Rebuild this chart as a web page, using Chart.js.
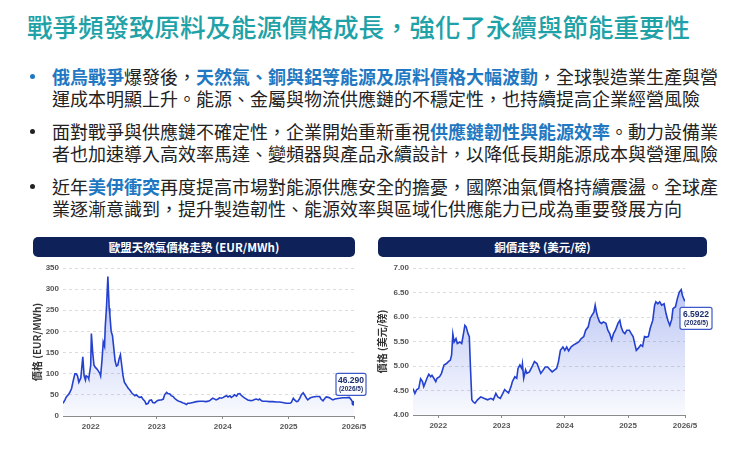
<!DOCTYPE html>
<html>
<head>
<meta charset="utf-8">
<script src="https://cdn.jsdelivr.net/npm/chart.js@4.4.1/dist/chart.umd.min.js"></script>
<style>
    body {
        margin: 0;
        width: 750px;
        height: 450px;
        background: #fff;
        position: relative;
        overflow: hidden;
        font-family: "Noto Sans CJK TC", "Noto Sans", sans-serif;
    }
    h1 {
        position: absolute;
        left: 27px;
        top: 9px;
        margin: 0;
        font-size: 25.5px;
        line-height: 34px;
        font-weight: 500;
        color: #1fa2a7;
        white-space: nowrap;
    }
    .bullet {
        position: absolute;
        left: 52px;
        font-size: 18px;
        line-height: 22px;
        color: #222;
        white-space: nowrap;
    }
    .bullet::before {
        content: "";
        position: absolute;
        left: -22px;
        top: 9px;
        width: 5px;
        height: 5px;
        border-radius: 50%;
        background: #222;
    }
    .bullet.first::before { background: #1f78c1; }
    .hl { color: #1f78c1; font-weight: 700; }
    .bar {
        position: absolute;
        top: 237px;
        height: 20px;
        line-height: 20px;
        background: #0e2259;
        border-radius: 5px;
        color: #fff;
        font-size: 11.5px;
        font-weight: 700;
        text-align: center;
    }
    canvas { position: absolute; }
</style>
</head>
<body>
<h1>戰爭頻發致原料及能源價格成長，強化了永續與節能重要性</h1>

<div class="bullet first" style="top:65px"><span class="hl">俄烏戰爭</span>爆發後，<span class="hl">天然氣、銅與鋁等能源及原料價格大幅波動</span>，全球製造業生產與營<br>運成本明顯上升。能源、金屬與物流供應鏈的不穩定性，也持續提高企業經營風險</div>
<div class="bullet" style="top:120px">面對戰爭與供應鏈不確定性，企業開始重新重視<span class="hl">供應鏈韌性與能源效率</span>。動力設備業<br>者也加速導入高效率馬達、變頻器與產品永續設計，以降低長期能源成本與營運風險</div>
<div class="bullet" style="top:175px">近年<span class="hl">美伊衝突</span>再度提高市場對能源供應安全的擔憂，國際油氣價格持續震盪。全球產<br>業逐漸意識到，提升製造韌性、能源效率與區域化供應能力已成為重要發展方向</div>

<div class="bar" style="left:33px;width:322px">歐盟天然氣價格走勢 (EUR/MWh)</div>
<div class="bar" style="left:378px;width:329px">銅價走勢 (美元/磅)</div>

<canvas id="gas" width="355" height="182" style="left:22px;top:258px"></canvas>
<canvas id="copper" width="350" height="182" style="left:372px;top:258px"></canvas>

<script>
// x positions are decimal years
const X_TICKS = [2022, 2023, 2024, 2025];
const X_TICK_LABELS = ["2022", "2023", "2024", "2025", "2026/5"];

const GAS_T = [
    2021.58, 2021.61, 2021.63, 2021.66, 2021.68, 2021.71, 2021.73, 2021.76, 2021.78, 2021.80,
    2021.82, 2021.85, 2021.88, 2021.90, 2021.92, 2021.93, 2021.96, 2021.97, 2022.00, 2022.01,
    2022.03, 2022.05, 2022.07, 2022.09, 2022.11, 2022.14, 2022.15, 2022.17, 2022.19, 2022.21,
    2022.22, 2022.24, 2022.26, 2022.28, 2022.29, 2022.31, 2022.33, 2022.35, 2022.37, 2022.39,
    2022.41, 2022.43, 2022.45, 2022.47, 2022.49, 2022.51, 2022.53, 2022.55, 2022.57, 2022.59,
    2022.62, 2022.64, 2022.67, 2022.69, 2022.72, 2022.74, 2022.77, 2022.79, 2022.82, 2022.84,
    2022.87, 2022.89, 2022.92, 2022.94, 2022.97, 2023.00, 2023.02, 2023.05, 2023.07, 2023.10,
    2023.12, 2023.15, 2023.17, 2023.20, 2023.22, 2023.25, 2023.27, 2023.30, 2023.32, 2023.35,
    2023.37, 2023.40, 2023.42, 2023.45, 2023.47, 2023.50, 2023.55, 2023.60, 2023.65, 2023.70,
    2023.75, 2023.80, 2023.83, 2023.85, 2023.88, 2023.90, 2023.93, 2023.95, 2023.98, 2024.01,
    2024.03, 2024.06, 2024.08, 2024.11, 2024.13, 2024.16, 2024.18, 2024.21, 2024.23, 2024.26,
    2024.28, 2024.31, 2024.33, 2024.36, 2024.38, 2024.41, 2024.43, 2024.46, 2024.48, 2024.51,
    2024.54, 2024.56, 2024.59, 2024.61, 2024.66, 2024.71, 2024.76, 2024.81, 2024.86, 2024.91,
    2024.96, 2025.02, 2025.04, 2025.07, 2025.09, 2025.12, 2025.14, 2025.17, 2025.19, 2025.22,
    2025.24, 2025.27, 2025.29, 2025.32, 2025.34, 2025.37, 2025.42, 2025.47, 2025.49, 2025.52,
    2025.55, 2025.57, 2025.60, 2025.62, 2025.65, 2025.67, 2025.70, 2025.72, 2025.77, 2025.82,
    2025.87, 2025.92, 2025.95, 2025.97, 2025.99
];
const GAS_V = [
    30, 38, 45, 50, 55, 65, 80, 100, 100, 95,
    80, 90, 140, 95, 85, 95, 92, 88, 120, 195,
    150, 120, 115, 112, 108, 100, 95, 130, 175, 165,
    210, 260, 330, 255, 240, 200, 190, 160, 130, 118,
    120, 135, 145, 120, 95, 80, 75, 70, 65, 62,
    55, 52, 48, 50, 46, 44, 45, 40, 35, 28,
    30, 37, 38, 32, 31, 35, 37, 38, 38, 40,
    50, 56, 53, 52, 48, 46, 42, 38, 36, 34,
    33, 31, 30, 27, 30, 30, 32, 34, 35, 35,
    34, 36, 40, 42, 40, 38, 40, 43, 42, 44,
    46, 48, 45, 48, 44, 47, 50, 47, 52, 53,
    49, 45, 43, 40, 38, 37, 36, 37, 39, 40,
    38, 40, 36, 35, 35, 34, 34, 33, 33, 32,
    30, 30, 32, 42, 38, 34, 35, 42, 50, 55,
    50, 42, 38, 42, 44, 45, 46, 46, 40, 36,
    42, 45, 44, 43, 40, 38, 40, 41, 42, 43,
    43, 44, 38, 32, 30
];
const GAS_LAST_VALUE = "46.290";
const GAS_LAST_DATE = "(2026/5)";

const CU_T = [
    2021.60, 2021.63, 2021.66, 2021.69, 2021.72, 2021.75, 2021.77, 2021.80, 2021.83, 2021.85,
    2021.88, 2021.90, 2021.93, 2021.96, 2021.98, 2022.02, 2022.05, 2022.09, 2022.13, 2022.16,
    2022.19, 2022.21, 2022.23, 2022.25, 2022.28, 2022.30, 2022.34, 2022.37, 2022.39, 2022.42,
    2022.44, 2022.47, 2022.49, 2022.51, 2022.53, 2022.55, 2022.58, 2022.62, 2022.67, 2022.72,
    2022.78, 2022.83, 2022.87, 2022.91, 2022.94, 2022.98, 2023.02, 2023.05, 2023.08, 2023.11,
    2023.15, 2023.17, 2023.21, 2023.24, 2023.26, 2023.29, 2023.32, 2023.33, 2023.35, 2023.38,
    2023.40, 2023.44, 2023.48, 2023.52, 2023.56, 2023.59, 2023.62, 2023.65, 2023.69, 2023.73,
    2023.77, 2023.80, 2023.84, 2023.87, 2023.90, 2023.93, 2023.97, 2024.00, 2024.03, 2024.06,
    2024.10, 2024.14, 2024.18, 2024.22, 2024.26, 2024.30, 2024.33, 2024.37, 2024.40, 2024.43,
    2024.46, 2024.48, 2024.50, 2024.52, 2024.55, 2024.58, 2024.61, 2024.65, 2024.68, 2024.71,
    2024.74, 2024.77, 2024.80, 2024.84, 2024.87, 2024.89, 2024.92, 2024.95, 2024.98, 2025.02,
    2025.05, 2025.08, 2025.11, 2025.13, 2025.16, 2025.20, 2025.23, 2025.26, 2025.29, 2025.32,
    2025.35, 2025.39, 2025.42, 2025.44, 2025.47, 2025.50, 2025.53, 2025.57, 2025.60, 2025.63,
    2025.66, 2025.69, 2025.71, 2025.75, 2025.78, 2025.81, 2025.84, 2025.86, 2025.89, 2025.90
];
const CU_V = [
    4.54, 4.44, 4.52, 4.54, 4.74, 4.68, 4.58, 4.68, 4.78, 4.83,
    4.78, 4.81, 4.75, 4.68, 4.75, 4.78, 4.85, 5.02, 5.05, 5.09,
    5.12, 5.22, 5.65, 5.49, 5.56, 5.46, 5.49, 5.46, 5.60, 5.83,
    5.80, 5.66, 5.60, 4.92, 4.31, 4.27, 4.24, 4.31, 4.37, 4.34,
    4.31, 4.34, 4.31, 4.44, 4.37, 4.34, 4.44, 4.52, 4.48, 4.45,
    4.58, 4.68, 4.78, 4.75, 4.95, 5.02, 4.95, 5.04, 4.75, 4.92,
    4.85, 4.88, 4.98, 5.09, 5.05, 4.95, 4.85, 4.90, 4.98, 4.98,
    4.92, 4.88, 4.92, 4.95, 5.09, 5.32, 5.39, 5.32, 5.39, 5.31,
    5.39, 5.43, 5.46, 5.49, 5.56, 5.60, 5.73, 5.80, 5.97, 6.04,
    6.10, 6.24, 6.10, 6.00, 5.90, 5.87, 5.90, 5.87, 5.73, 5.66,
    5.53, 5.66, 5.73, 5.87, 5.93, 5.80, 5.70, 5.66, 5.73, 5.73,
    5.66, 5.60, 5.43, 5.32, 5.36, 5.43, 5.40, 5.60, 5.59, 5.60,
    5.77, 5.93, 6.24, 6.31, 6.27, 6.31, 6.24, 6.27, 6.07, 5.93,
    5.83, 5.95, 6.17, 6.21, 6.38, 6.51, 6.56, 6.44, 6.34, 6.36
];
const CU_LAST_VALUE = "6.5922";
const CU_LAST_DATE = "(2026/5)";

const LINE_COLOR = "#2440cf",
    GRID_COLOR = "#dcdcdc",
    AXIS_COLOR = "#8a8a8a",
    TICK_COLOR = "#555555",
    TITLE_COLOR = "#333333",
    BOX_TEXT_COLOR = "#1c2d6b",
    TICK_FONT = { family: "Liberation Sans", size: 8, weight: "bold" };

// draws the boxed "last value" note next to the final point
const lastLabelPlugin = {
    id: "lastLabel",
    afterDatasetsDraw(chart, args, opts) {
        const pts = chart.getDatasetMeta(0).data;
        const pt = pts[pts.length - 1];
        const ctx = chart.ctx;
        const x = pt.x + opts.dx, y = pt.y + opts.dy, w = opts.w, h = 22;
        ctx.save();
        ctx.beginPath();
        ctx.roundRect(x, y, w, h, 2);
        ctx.fillStyle = "#ffffff";
        ctx.fill();
        ctx.lineWidth = 1.2;
        ctx.strokeStyle = "#3d58c9";
        ctx.stroke();
        ctx.fillStyle = BOX_TEXT_COLOR;
        ctx.textAlign = "center";
        ctx.textBaseline = "middle";
        ctx.font = "bold 8.5px 'Liberation Sans'";
        ctx.fillText(opts.value, x + w / 2, y + 7);
        ctx.font = "bold 6.5px 'Liberation Sans'";
        ctx.fillText(opts.date, x + w / 2, y + 16);
        ctx.restore();
    },
};

function fillGradient(context) {
    const chart = context.chart;
    const area = chart.chartArea;
    if (!area) {
        return null;
    }
    const g = chart.ctx.createLinearGradient(0, area.top, 0, area.bottom);
    g.addColorStop(0, "rgba(70,100,225,0.42)");
    g.addColorStop(1, "rgba(70,100,225,0.03)");
    return g;
}

function createChart(canvas, xs, ys, cfg) {
    const points = xs.map((x, i) => ({ x: x, y: ys[i] }));
    const radii = ys.map((v, i) => (cfg.endDot && i === ys.length - 1 ? 2.5 : 0));
    return new Chart(canvas.getContext("2d"), {
        type: "line",
        data: {
            datasets: [{
                data: points,
                borderColor: LINE_COLOR,
                borderWidth: 1.6,
                backgroundColor: fillGradient,
                fill: "start",
                tension: 0,
                pointRadius: radii,
                pointBackgroundColor: LINE_COLOR,
                pointBorderWidth: 0,
            }],
        },
        options: {
            responsive: false,
            animation: false,
            layout: {
                padding: { top: 10, right: cfg.padRight, left: 0, bottom: 0 },
            },
            plugins: {
                legend: { display: false },
                tooltip: { enabled: false },
                lastLabel: cfg.label,
            },
            scales: {
                x: {
                    type: "linear",
                    min: xs[0],
                    max: xs[xs.length - 1],
                    afterBuildTicks: (scale) => {
                        scale.ticks = X_TICKS.concat([xs[xs.length - 1]]).map((v) => ({ value: v }));
                    },
                    afterFit: (scale) => {
                        scale.height = cfg.xHeight;
                    },
                    ticks: {
                        autoSkip: false,
                        maxRotation: 0,
                        padding: 3,
                        color: TICK_COLOR,
                        font: TICK_FONT,
                        callback: (v, i) => X_TICK_LABELS[i],
                    },
                    grid: {
                        drawOnChartArea: false,
                        drawTicks: true,
                        tickLength: 3,
                        color: AXIS_COLOR,
                    },
                    border: { display: true, color: AXIS_COLOR, width: 1 },
                },
                y: {
                    min: cfg.yMin,
                    max: cfg.yMax,
                    afterFit: (scale) => {
                        scale.width = 41;
                    },
                    ticks: {
                        stepSize: cfg.yStep,
                        padding: 4,
                        color: TICK_COLOR,
                        font: TICK_FONT,
                        callback: cfg.yFormat,
                    },
                    grid: {
                        color: GRID_COLOR,
                        drawTicks: false,
                    },
                    border: { display: false, dash: [3, 3] },
                    title: {
                        display: true,
                        text: cfg.yTitle,
                        color: TITLE_COLOR,
                        font: { family: "Noto Sans CJK TC", size: 10, weight: "bold" },
                        padding: { top: cfg.titlePad, bottom: 0 },
                    },
                },
            },
        },
        plugins: [lastLabelPlugin],
    });
}

createChart(document.getElementById("gas"), GAS_T, GAS_V, {
    padRight: 23,
    xHeight: 24,
    yMin: 0,
    yMax: 350,
    yStep: 50,
    yFormat: (v) => v,
    yTitle: "價格 (EUR/MWh)",
    titlePad: 9,
    endDot: true,
    label: { value: GAS_LAST_VALUE, date: GAS_LAST_DATE, dx: -18, dy: -30, w: 30 },
});

createChart(document.getElementById("copper"), CU_T, CU_V, {
    padRight: 37,
    xHeight: 25,
    yMin: 4,
    yMax: 7,
    yStep: 0.5,
    yFormat: (v) => v.toFixed(2),
    yTitle: "價格 (美元/磅)",
    titlePad: 4,
    endDot: false,
    label: { value: CU_LAST_VALUE, date: CU_LAST_DATE, dx: -5, dy: 8, w: 32 },
});
</script>
</body>
</html>
